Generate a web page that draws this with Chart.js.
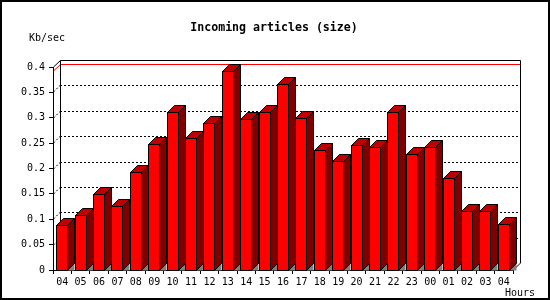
<!DOCTYPE html>
<html>
<head>
<meta charset="utf-8">
<script src="https://cdn.jsdelivr.net/npm/chart.js@4.4.1/dist/chart.umd.min.js"></script>
<style>
  html, body { margin: 0; padding: 0; background: #fff; }
  canvas { display: block; }
</style>
</head>
<body>
<canvas id="myChart" width="550" height="300"></canvas>
<script>
// hours on the x axis (the window wraps past midnight)
var hours = ["04", "05", "06", "07", "08", "09", "10", "11", "12", "13", "14", "15", "16",
             "17", "18", "19", "20", "21", "22", "23", "00", "01", "02", "03", "04"];
// incoming size, Kb/sec
var kbPerSec = [0.088, 0.108, 0.149, 0.127, 0.194, 0.248, 0.311, 0.260, 0.289, 0.392, 0.297, 0.311, 0.366,
                0.299, 0.236, 0.214, 0.246, 0.242, 0.311, 0.228, 0.242, 0.181, 0.116, 0.116, 0.090];
var yTickLabels = ["0", "0.05", "0.1", "0.15", "0.2", "0.25", "0.3", "0.35", "0.4"];

var titleText = "Incoming articles (size)";
var yAxisTitle = "Kb/sec";
var xAxisTitle = "Hours";

var DX = 7, DY = 7; // depth of the fake 3d
var mono = "'DejaVu Sans Mono', 'Liberation Mono', monospace";

function px(v) { return Math.round(v) + 0.5; }

var threeD = {
    id: 'threeD',
    beforeDraw: function (chart) {
        var ctx = chart.ctx;
        ctx.save();
        ctx.fillStyle = '#fff';
        ctx.fillRect(0, 0, chart.width, chart.height);
        ctx.restore();
    },
    beforeDatasetsDraw: function (chart) {
        var ctx = chart.ctx, a = chart.chartArea;
        var yScale = chart.scales.y;
        var L = Math.round(a.left), R = Math.round(a.right), B = Math.round(a.bottom), T = Math.round(a.top);
        ctx.save();
        ctx.lineWidth = 1;

        // dotted grid on the back wall, with little slants on the left wall
        ctx.strokeStyle = '#000';
        ctx.setLineDash([2, 2]);
        yScale.ticks.forEach(function (t) {
            if (t.value <= 0 || t.value >= yScale.max) return;
            var y = Math.round(yScale.getPixelForValue(t.value));
            ctx.beginPath();
            ctx.moveTo(L + DX, px(y - DY));
            ctx.lineTo(R + DX, px(y - DY));
            ctx.stroke();
            ctx.beginPath();
            ctx.moveTo(px(L), y);
            ctx.lineTo(px(L + DX), y - DY);
            ctx.stroke();
        });
        ctx.setLineDash([]);

        // red line at the maximum
        var maxV = Math.max.apply(null, chart.data.datasets[0].data);
        var ym = Math.round(yScale.getPixelForValue(maxV));
        ctx.strokeStyle = '#ff0000';
        ctx.beginPath();
        ctx.moveTo(px(L), ym);
        ctx.lineTo(px(L + DX), px(ym - DY));
        ctx.lineTo(R + DX, px(ym - DY));
        ctx.stroke();

        // frame of the box
        ctx.strokeStyle = '#000';
        ctx.beginPath();
        ctx.moveTo(px(L), T);
        ctx.lineTo(px(L + DX), px(T - DY));
        ctx.lineTo(px(R + DX), px(T - DY));
        ctx.lineTo(px(R + DX), B - DY);
        ctx.lineTo(px(R), B);
        ctx.moveTo(px(L + DX), px(T - DY));
        ctx.lineTo(px(L + DX), B - DY);
        ctx.stroke();
        ctx.restore();
    },
    beforeDatasetDraw: function (chart, args) {
        var ctx = chart.ctx;
        var ds = chart.data.datasets[args.index];
        ctx.save();
        ctx.lineWidth = 1;
        ctx.strokeStyle = '#000';
        args.meta.data.forEach(function (bar) {
            var p = bar.getProps(['x', 'y', 'base', 'width'], true);
            var l = px(p.x - p.width / 2), r = px(p.x + p.width / 2 - 1);
            var t = px(p.y), b = px(p.base);
            // floor shadow
            ctx.fillStyle = '#808080';
            ctx.beginPath();
            ctx.moveTo(r, b); ctx.lineTo(r + DX, b - DY); ctx.lineTo(r + DX, b); ctx.closePath();
            ctx.fill();
            // side
            ctx.fillStyle = '#800000';
            ctx.beginPath();
            ctx.moveTo(r, t); ctx.lineTo(r + DX, t - DY); ctx.lineTo(r + DX, b - DY); ctx.lineTo(r, b); ctx.closePath();
            ctx.fill(); ctx.stroke();
            // top
            ctx.fillStyle = '#c00000';
            ctx.beginPath();
            ctx.moveTo(l, t); ctx.lineTo(l + DX, t - DY); ctx.lineTo(r + DX, t - DY); ctx.lineTo(r, t); ctx.closePath();
            ctx.fill(); ctx.stroke();
            // front
            ctx.fillStyle = ds.backgroundColor;
            ctx.fillRect(l, t, r - l, b - t);
            ctx.strokeRect(l, t, r - l, b - t);
        });
        ctx.restore();
        return false;
    },
    afterDraw: function (chart) {
        var ctx = chart.ctx;
        ctx.save();
        ctx.fillStyle = '#000';
        ctx.textBaseline = 'alphabetic';
        ctx.font = 'bold 11.6px ' + mono;
        ctx.textAlign = 'center';
        ctx.fillText(titleText, 274, 31);
        ctx.font = '10px ' + mono;
        ctx.textAlign = 'left';
        ctx.fillText(yAxisTitle, 29, 41);
        ctx.fillText(xAxisTitle, 505, 296);
        // outer border
        ctx.lineWidth = 2;
        ctx.strokeStyle = '#000';
        ctx.strokeRect(1, 1, chart.width - 2, chart.height - 2);
        ctx.restore();
    }
};

var ctx = document.getElementById("myChart").getContext("2d");

var chart = new Chart(ctx, {
    type: 'bar',
    data: {
        labels: hours,
        datasets: [{
            label: yAxisTitle,
            data: kbPerSec,
            backgroundColor: '#ff0000',
            borderColor: '#000',
            borderWidth: 1,
            barThickness: 12
        }]
    },
    options: {
        responsive: false,
        animation: false,
        devicePixelRatio: 1,
        layout: { padding: { left: 0, right: 37, top: 67, bottom: 0 } },
        plugins: {
            legend: { display: false },
            title: { display: false },
            tooltip: { enabled: false }
        },
        scales: {
            x: {
                afterFit: function (s) { s.height = 30; },
                grid: { offset: true, drawOnChartArea: false, drawTicks: true, tickLength: 4, color: '#000' },
                border: { color: '#000' },
                ticks: {
                    color: '#000',
                    font: { family: mono, size: 10 },
                    maxRotation: 0,
                    autoSkip: false,
                    padding: 2
                }
            },
            y: {
                min: 0,
                max: 0.4,
                afterFit: function (s) { s.width = 53; },
                grid: { drawOnChartArea: false, drawTicks: true, tickLength: 4, color: '#000' },
                border: { color: '#000' },
                ticks: {
                    stepSize: 0.05,
                    color: '#000',
                    font: { family: mono, size: 10 },
                    padding: 4,
                    callback: function (v, i) { return yTickLabels[i]; }
                }
            }
        }
    },
    plugins: [threeD]
});
</script>
</body>
</html>
